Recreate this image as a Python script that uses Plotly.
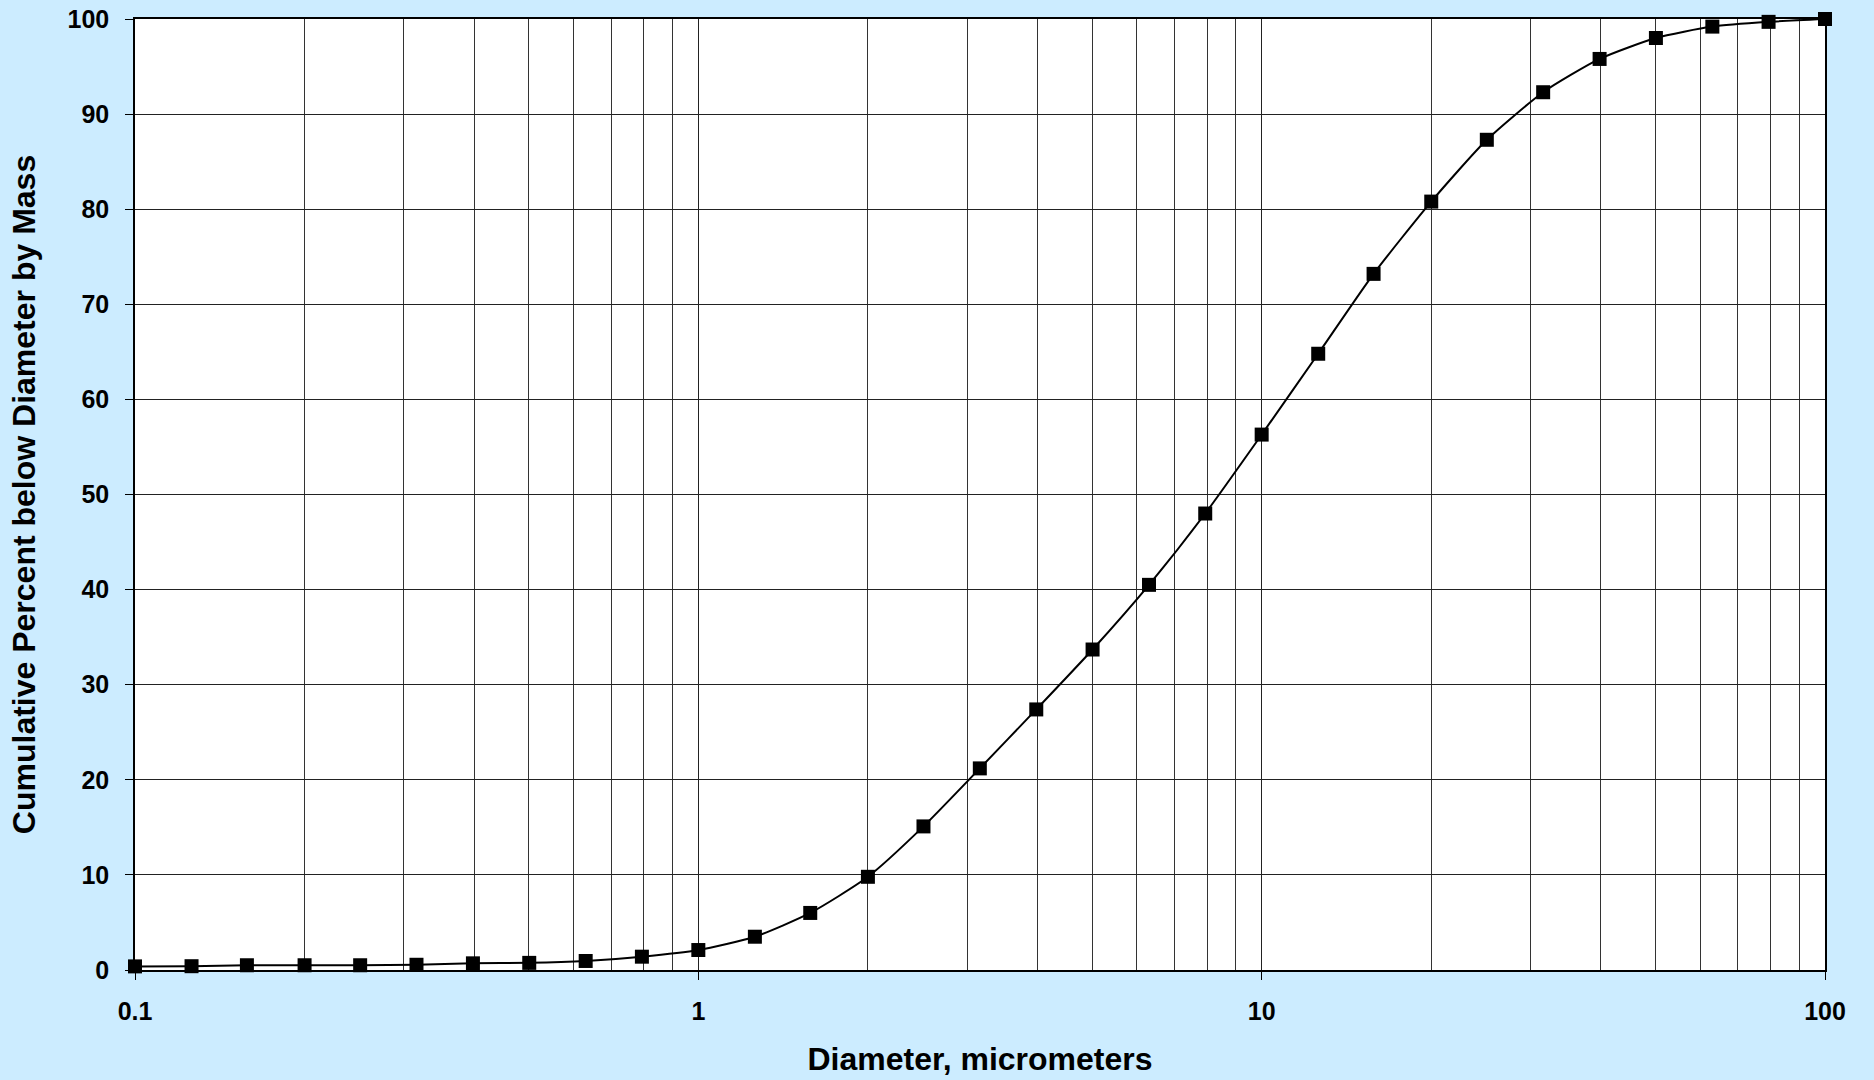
import plotly.graph_objects as go

diameter_um = [0.1, 0.126, 0.158, 0.2, 0.251, 0.316, 0.398, 0.501, 0.631, 0.794,
               1.0, 1.26, 1.58, 2.0, 2.51, 3.16, 3.98, 5.01, 6.31, 7.94,
               10.0, 12.6, 15.8, 20.0, 25.1, 31.6, 39.8, 50.1, 63.1, 79.4, 100.0]
cum_percent = [0.38, 0.4, 0.5, 0.5, 0.5, 0.55, 0.7, 0.75, 0.95, 1.4,
               2.1, 3.5, 6.0, 9.8, 15.1, 21.2, 27.4, 33.7, 40.5, 48.0,
               56.3, 64.8, 73.2, 80.8, 87.3, 92.3, 95.8, 98.0, 99.2, 99.7, 100.0]
x_tick_vals = [0.1, 1, 10, 100]
x_tick_text = ["0.1", "1", "10", "100"]
y_tick_vals = [0, 10, 20, 30, 40, 50, 60, 70, 80, 90, 100]

FONT = "Liberation Sans, Arial, sans-serif"
BG = "#CCECFF"

fig = go.Figure()
fig.add_trace(go.Scatter(
    x=diameter_um, y=cum_percent,
    mode="lines+markers",
    line=dict(color="black", width=2, shape="spline", smoothing=0.6),
    marker=dict(symbol="square", size=14, color="black"),
    cliponaxis=False,
    showlegend=False,
))

fig.update_layout(
    width=1874, height=1080,
    paper_bgcolor=BG, plot_bgcolor="white",
    margin=dict(l=135, r=49, t=19, b=110),
    font=dict(family=FONT, color="black"),
    xaxis=dict(
        type="log", range=[-1, 2], automargin=False,
        tickvals=x_tick_vals, ticktext=x_tick_text,
        ticks="outside", ticklen=8, tickcolor="black", tickwidth=1,
        ticklabelstandoff=10,
        tickfont=dict(family=FONT, size=25, color="black", weight="bold"),
        showgrid=True, gridcolor="#222222", gridwidth=1,
        minor=dict(dtick="D1", showgrid=True, gridcolor="#333333", gridwidth=1, ticks=""),
        showline=True, linecolor="black", linewidth=1.5, mirror=True,
        title=dict(text="<b>Diameter, micrometers</b>", standoff=24,
                   font=dict(family=FONT, size=32, color="black")),
        zeroline=False,
    ),
    yaxis=dict(
        range=[0, 100], tickvals=y_tick_vals, automargin=False,
        ticks="outside", ticklen=8, tickcolor="black", tickwidth=1,
        ticklabelstandoff=11,
        tickfont=dict(family=FONT, size=25, color="black", weight="bold"),
        showgrid=True, gridcolor="#222222", gridwidth=1,
        showline=True, linecolor="black", linewidth=1.5, mirror=True,
        title=dict(text="<b>Cumulative Percent below Diameter by Mass</b>", standoff=22,
                   font=dict(family=FONT, size=32, color="black")),
        zeroline=False,
    ),
)

fig.write_html("out.html", config={"displayModeBar": False},
               post_script="document.body.style.margin='0';")
